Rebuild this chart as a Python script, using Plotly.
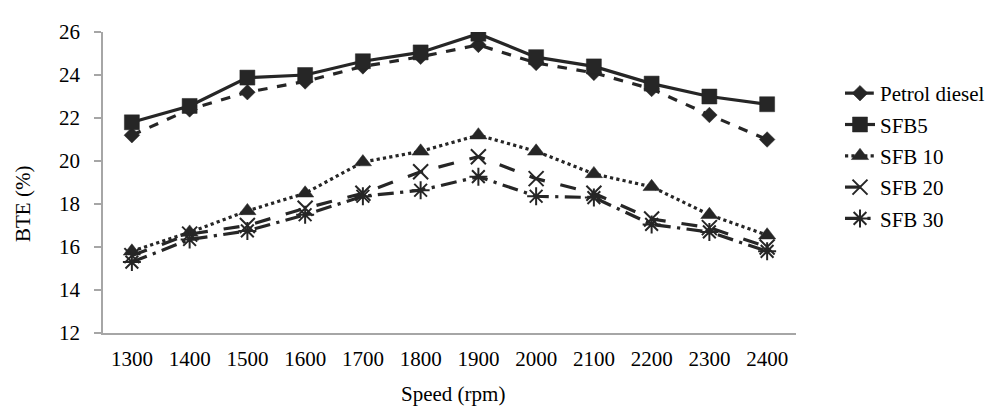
import plotly.graph_objects as go

speeds = ["1300", "1400", "1500", "1600", "1700", "1800", "1900", "2000", "2100", "2200", "2300", "2400"]
petrol_diesel = [21.2, 22.4, 23.2, 23.7, 24.4, 24.85, 25.4, 24.56, 24.1, 23.35, 22.14, 21.0]
sfb5 = [21.8, 22.56, 23.88, 24.0, 24.64, 25.05, 25.92, 24.83, 24.4, 23.6, 23.0, 22.64]
sfb10 = [15.8, 16.68, 17.68, 18.5, 19.95, 20.45, 21.2, 20.45, 19.4, 18.8, 17.5, 16.55]
sfb20 = [15.6, 16.6, 17.0, 17.8, 18.5, 19.5, 20.2, 19.18, 18.5, 17.3, 16.9, 16.0]
sfb30 = [15.3, 16.35, 16.75, 17.5, 18.36, 18.64, 19.27, 18.36, 18.3, 17.05, 16.7, 15.8]

y_ticks = [12, 14, 16, 18, 20, 22, 24, 26]

FONT = "Liberation Serif"
INK = "#262626"

series = [
    ("Petrol diesel", petrol_diesel, "dash", "diamond", 12),
    ("SFB5", sfb5, "solid", "square", 15),
    ("SFB 10", sfb10, "dot", "triangle-up", 15),
    ("SFB 20", sfb20, "longdash", "x-thin-open", 15),
    ("SFB 30", sfb30, "longdashdot", "asterisk-open", 15),
]

fig = go.Figure()
for name, vals, dash, sym, size in series:
    fig.add_trace(go.Scatter(
        x=speeds, y=vals, name=name, mode="lines+markers", legendgroup=name,
        line=dict(color=INK, width=3.2, dash=dash),
        marker=dict(symbol=sym, size=size, color=INK,
                    line=dict(color=INK, width=2 if "open" in sym else 0.5)),
    ))

# page body has an 8px margin, so screenshot coords are offset by 8
OFF = 8
W, H = 1007 - OFF, 407 - OFF
px_left, px_right, px_top, px_bottom = 103 - OFF, 796 - OFF, 25 - OFF, 333 - OFF
L, R, T, B = px_left, W - px_right, px_top, H - px_bottom
pw = px_right - px_left
ph = px_bottom - px_top


def paper_x(sx):
    return (sx - OFF - px_left) / pw


def paper_y(sy):
    return (px_bottom - (sy - OFF)) / ph


FS = 21

fig.update_layout(
    width=W, height=H,
    margin=dict(l=L, r=R, t=T, b=B, pad=0),
    paper_bgcolor="white", plot_bgcolor="white",
    font=dict(family=FONT, size=FS, color="#000000"),
    showlegend=True,
    legend=dict(
        x=paper_x(840), y=paper_y(67), xanchor="left", yanchor="top",
        font=dict(family=FONT, size=FS, color="#000000"),
        bgcolor="rgba(0,0,0,0)", tracegroupgap=1, itemwidth=30,
    ),
    xaxis=dict(
        type="category", range=[-0.5, 11.5],
        showline=True, linecolor="#a6a6a6", linewidth=1.5,
        showgrid=False, ticks="", zeroline=False, ticklabelstandoff=6,
        tickfont=dict(family=FONT, size=FS, color="#000000"),
    ),
    yaxis=dict(
        range=[12, 26], tickvals=y_ticks,
        showline=True, linecolor="#a6a6a6", linewidth=1.5,
        showgrid=False, ticks="outside", ticklen=7, tickcolor="#a6a6a6", tickwidth=1.5,
        zeroline=False, ticklabelstandoff=10,
        tickfont=dict(family=FONT, size=FS, color="#000000"),
    ),
    annotations=[
        dict(text="BTE (%)", xref="paper", yref="paper",
             x=paper_x(23), y=paper_y(201), textangle=-90,
             showarrow=False, xanchor="center", yanchor="middle",
             font=dict(family=FONT, size=FS, color="#000000")),
        dict(text="Speed (rpm)", xref="paper", yref="paper",
             x=paper_x(453), y=paper_y(395),
             showarrow=False, xanchor="center", yanchor="middle",
             font=dict(family=FONT, size=FS, color="#000000")),
    ],
)

fig.write_html("out.html")
